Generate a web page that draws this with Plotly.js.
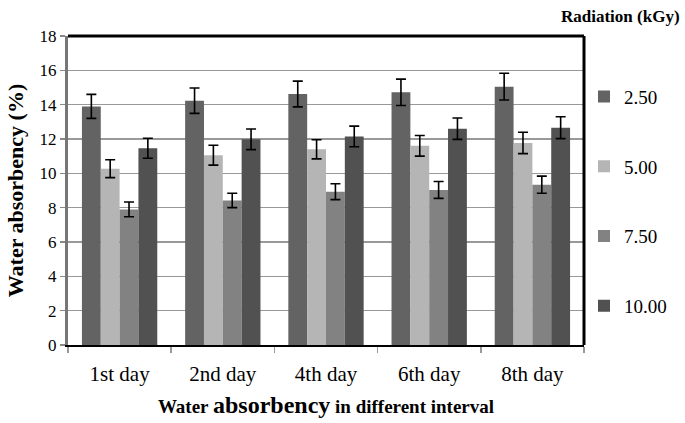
<!DOCTYPE html>
<html>
<head>
<meta charset="utf-8">
<script src="https://cdn.plot.ly/plotly-3.0.1.min.js"></script>
<style>html,body{margin:0;padding:0;background:#fff;}#chart{width:685px;height:423px;}</style>
</head>
<body>
<div id="chart"></div>
<script>
var categories = ["1st day", "2nd day", "4th day", "6th day", "8th day"];
var seriesNames = ["2.50", "5.00", "7.50", "10.00"];
var values_250 = [13.9, 14.23, 14.62, 14.72, 15.05];
var values_500 = [10.27, 11.06, 11.4, 11.6, 11.77];
var values_750 = [7.9, 8.42, 8.93, 9.03, 9.34];
var values_1000 = [11.46, 11.98, 12.15, 12.6, 12.66];
var err_250 = [0.7, 0.74, 0.75, 0.77, 0.78];
var err_500 = [0.52, 0.58, 0.56, 0.6, 0.62];
var err_750 = [0.43, 0.42, 0.46, 0.49, 0.5];
var err_1000 = [0.58, 0.6, 0.6, 0.62, 0.64];
var yTicks = [0, 2, 4, 6, 8, 10, 12, 14, 16, 18];

var colors = ["#636363", "#b5b5b5", "#828282", "#515151"];
var allValues = [values_250, values_500, values_750, values_1000];
var allErr = [err_250, err_500, err_750, err_1000];

var traces = seriesNames.map(function (name, i) {
  return {
    type: "bar",
    name: name,
    x: categories,
    y: allValues[i],
    legendgroup: "g" + i,
    marker: { color: colors[i], line: { width: 0 } },
    error_y: { type: "data", array: allErr[i], visible: true, color: "#000", thickness: 1.6, width: 5 }
  };
});

var serif = "Liberation Serif, Times New Roman, serif";

var layout = {
  width: 685,
  height: 423,
  margin: { l: 68, r: 101, t: 36, b: 78 },
  paper_bgcolor: "#fff",
  plot_bgcolor: "#fff",
  barmode: "group",
  bargap: 0.27,
  bargroupgap: 0,
  font: { family: serif, color: "#000", size: 18 },
  xaxis: {
    type: "category",
    tickson: "boundaries",
    ticks: "outside",
    ticklen: 6,
    tickwidth: 1.5,
    tickcolor: "#999",
    ticklabelstandoff: 9,
    tickfont: { family: serif, size: 21, color: "#000" },
    showline: true,
    linecolor: "#000",
    linewidth: 2,
    showgrid: false,
    zeroline: false,
    title: {
      text: "<b>Water <span style=\"font-size:24px\">absorbency</span> in different interval</b>",
      font: { family: serif, size: 19, color: "#000" },
      standoff: 14
    }
  },
  yaxis: {
    range: [0, 18],
    tickvals: yTicks,
    ticktext: yTicks.map(String),
    ticks: "outside",
    ticklen: 5,
    tickwidth: 1.5,
    tickcolor: "#888",
    tickfont: { family: serif, size: 17, color: "#000" },
    showline: true,
    linecolor: "#777",
    linewidth: 3,
    showgrid: true,
    gridcolor: "#999",
    gridwidth: 1.5,
    zeroline: false,
    title: {
      text: "<b>Water absorbency (%)</b>",
      font: { family: serif, size: 22, color: "#000" },
      standoff: 10
    }
  },
  showlegend: true,
  legend: {
    x: 1.0,
    xanchor: "left",
    y: 0.865,
    yanchor: "top",
    tracegroupgap: 42,
    font: { family: serif, size: 19, color: "#000" },
    bgcolor: "rgba(0,0,0,0)",
    itemwidth: 30
  },
  shapes: [
    { type: "line", xref: "paper", yref: "paper", x0: 0, x1: 1, y0: 1, y1: 1, line: { color: "#000", width: 3 } },
    { type: "line", xref: "paper", yref: "paper", x0: 1, x1: 1, y0: 0, y1: 1, line: { color: "#000", width: 3 } }
  ],
  annotations: [
    {
      text: "<b>Radiation (kGy)</b>",
      xref: "paper", yref: "paper",
      x: 1.19, y: 1.0, xanchor: "right", yanchor: "bottom", yshift: 8,
      showarrow: false,
      font: { family: serif, size: 17, color: "#000" }
    }
  ]
};

Plotly.newPlot("chart", traces, layout, { displayModeBar: false, staticPlot: true });
</script>
</body>
</html>
